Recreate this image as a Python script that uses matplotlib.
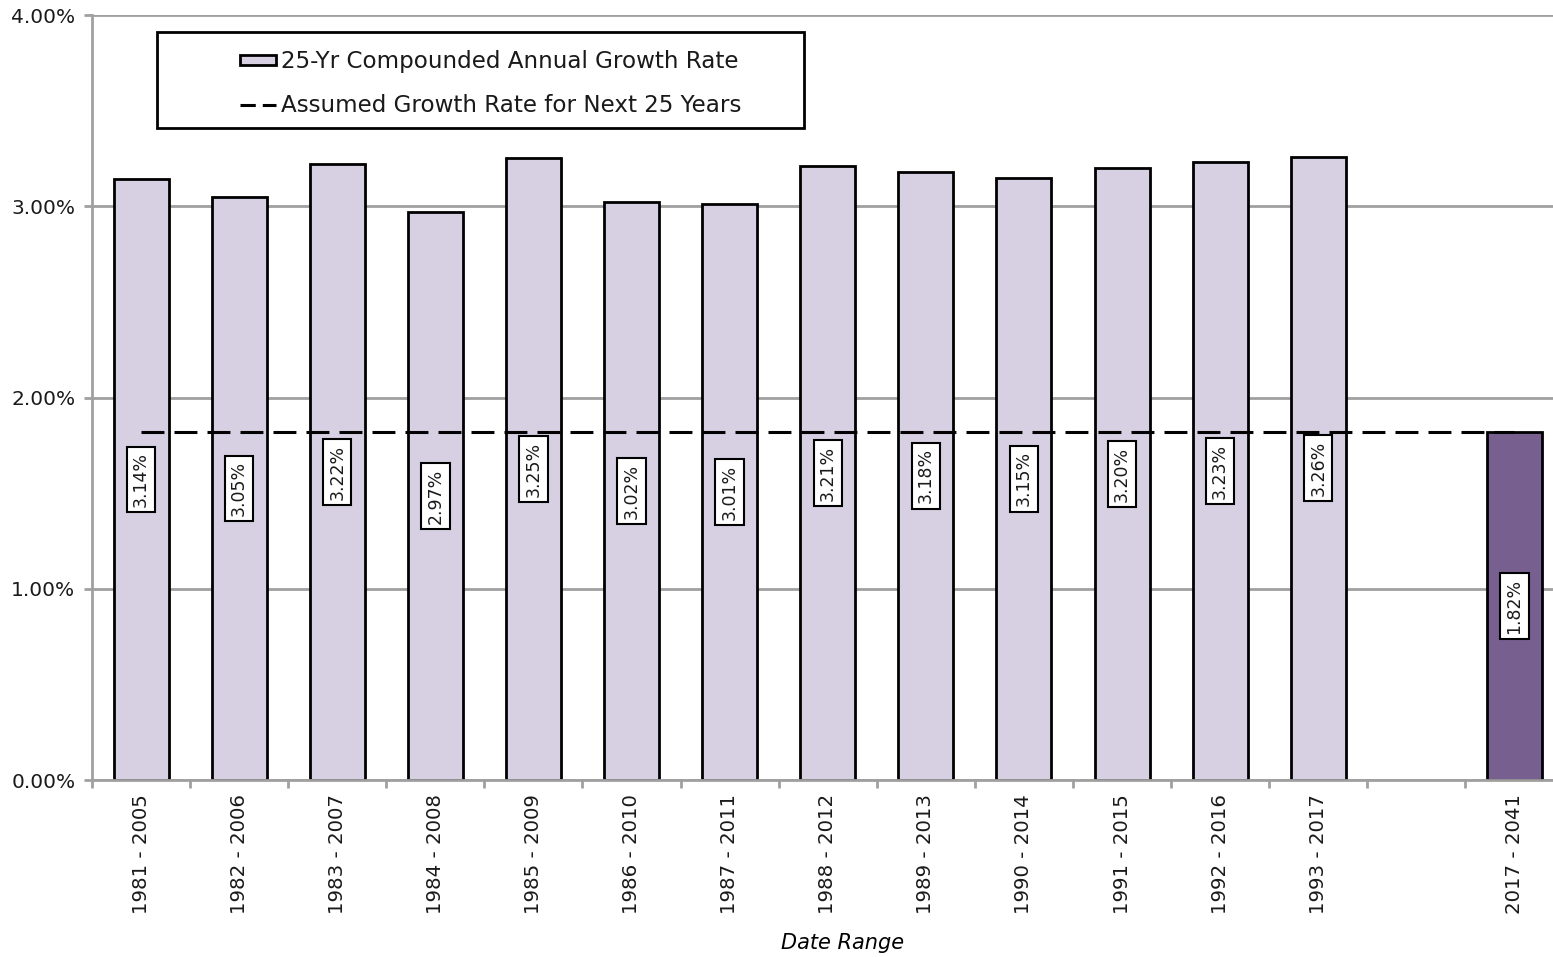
import matplotlib
matplotlib.use("Agg")
import matplotlib.pyplot as plt
from matplotlib.patches import Rectangle, Patch
from matplotlib.lines import Line2D
import numpy as np

plt.rcParams["font.family"] = ["DejaVu Sans"]
plt.rcParams["text.color"] = "#1a1a1a"
plt.rcParams["xtick.color"] = "#1a1a1a"
plt.rcParams["ytick.color"] = "#1a1a1a"

categories = ["1981 - 2005", "1982 - 2006", "1983 - 2007", "1984 - 2008", "1985 - 2009",
              "1986 - 2010", "1987 - 2011", "1988 - 2012", "1989 - 2013", "1990 - 2014",
              "1991 - 2015", "1992 - 2016", "1993 - 2017", "", "2017 - 2041"]
historical = [3.14, 3.05, 3.22, 2.97, 3.25, 3.02, 3.01, 3.21, 3.18, 3.15, 3.20, 3.23, 3.26]
projected = 1.82
assumed = [1.82] * 15

light = "#D7CFE2"
dark = "#77608F"
grid_col = "#A0A0A0"

W, H = 1553, 957
fig = plt.figure(figsize=(W / 100, H / 100), dpi=100)
ax = fig.add_axes([92 / W, 1 - 780 / H, (1563.5 - 92) / W, (780 - 15) / H])

x = np.arange(len(categories))
values = historical + [np.nan, projected]
colors = [light] * len(historical) + [light, dark]
ax.bar(x, values, width=0.56, color=colors, edgecolor="black", linewidth=2, zorder=2)
ax.plot(x, assumed, color="black", linewidth=2.2, dashes=(7.5, 3.3), zorder=3)

for xi, v in zip(x, values):
    if np.isnan(v):
        continue
    ax.text(xi, v / 2, f"{v:.2f}%", rotation=90, ha="center", va="center", fontsize=12.5,
            zorder=4,
            bbox=dict(boxstyle="square,pad=0.3", facecolor="white", edgecolor="black", linewidth=1.5))

ax.set_xlim(-0.5, len(categories) - 0.5)
ax.set_ylim(0, 4)
ax.set_yticks([0, 1, 2, 3, 4])
ax.set_yticklabels([f"{t:.2f}%" for t in [0, 1, 2, 3, 4]], fontsize=14.5)
ax.set_xticks(x)
ax.set_xticklabels(categories, rotation=90, fontsize=14.2)
ax.tick_params(axis="x", length=0, pad=10)
ax.set_xticks(np.arange(-0.5, len(categories), 1), minor=True)
ax.tick_params(axis="x", which="minor", length=6, color=grid_col, width=2)
ax.tick_params(axis="y", length=6, color=grid_col, width=2, pad=6)

ax.yaxis.grid(True, color=grid_col, linewidth=2, zorder=0)
ax.set_axisbelow(True)
for side in ["top", "right"]:
    ax.spines[side].set_visible(False)
for side in ["left", "bottom"]:
    ax.spines[side].set_color(grid_col)
    ax.spines[side].set_linewidth(2)

ax.set_xlabel("Date Range", fontsize=15, style="italic")
ax.xaxis.set_label_coords(0.510, -0.200)

# legend box with white fill, entries inside
fig.patches.append(Rectangle((157 / W, 1 - 128 / H), (804 - 157) / W, 96 / H,
                             transform=fig.transFigure, facecolor="white",
                             edgecolor="black", linewidth=2, zorder=5))
handles = [Patch(facecolor=light, edgecolor="black", linewidth=2),
           Line2D([], [], color="black", linewidth=2.2, dashes=(5, 2.3))]
labels = ["25-Yr Compounded Annual Growth Rate", "Assumed Growth Rate for Next 25 Years"]
leg = fig.legend(handles, labels, loc="center left",
                 bbox_to_anchor=(240 / W, 1 - 83.5 / H), bbox_transform=fig.transFigure,
                 fontsize=16.6, frameon=False, borderpad=0, borderaxespad=0,
                 handlelength=1.56, handleheight=0.3, labelspacing=0.9, handletextpad=0.2)
leg.set_zorder(6)

fig.savefig("out.png", dpi=100)
